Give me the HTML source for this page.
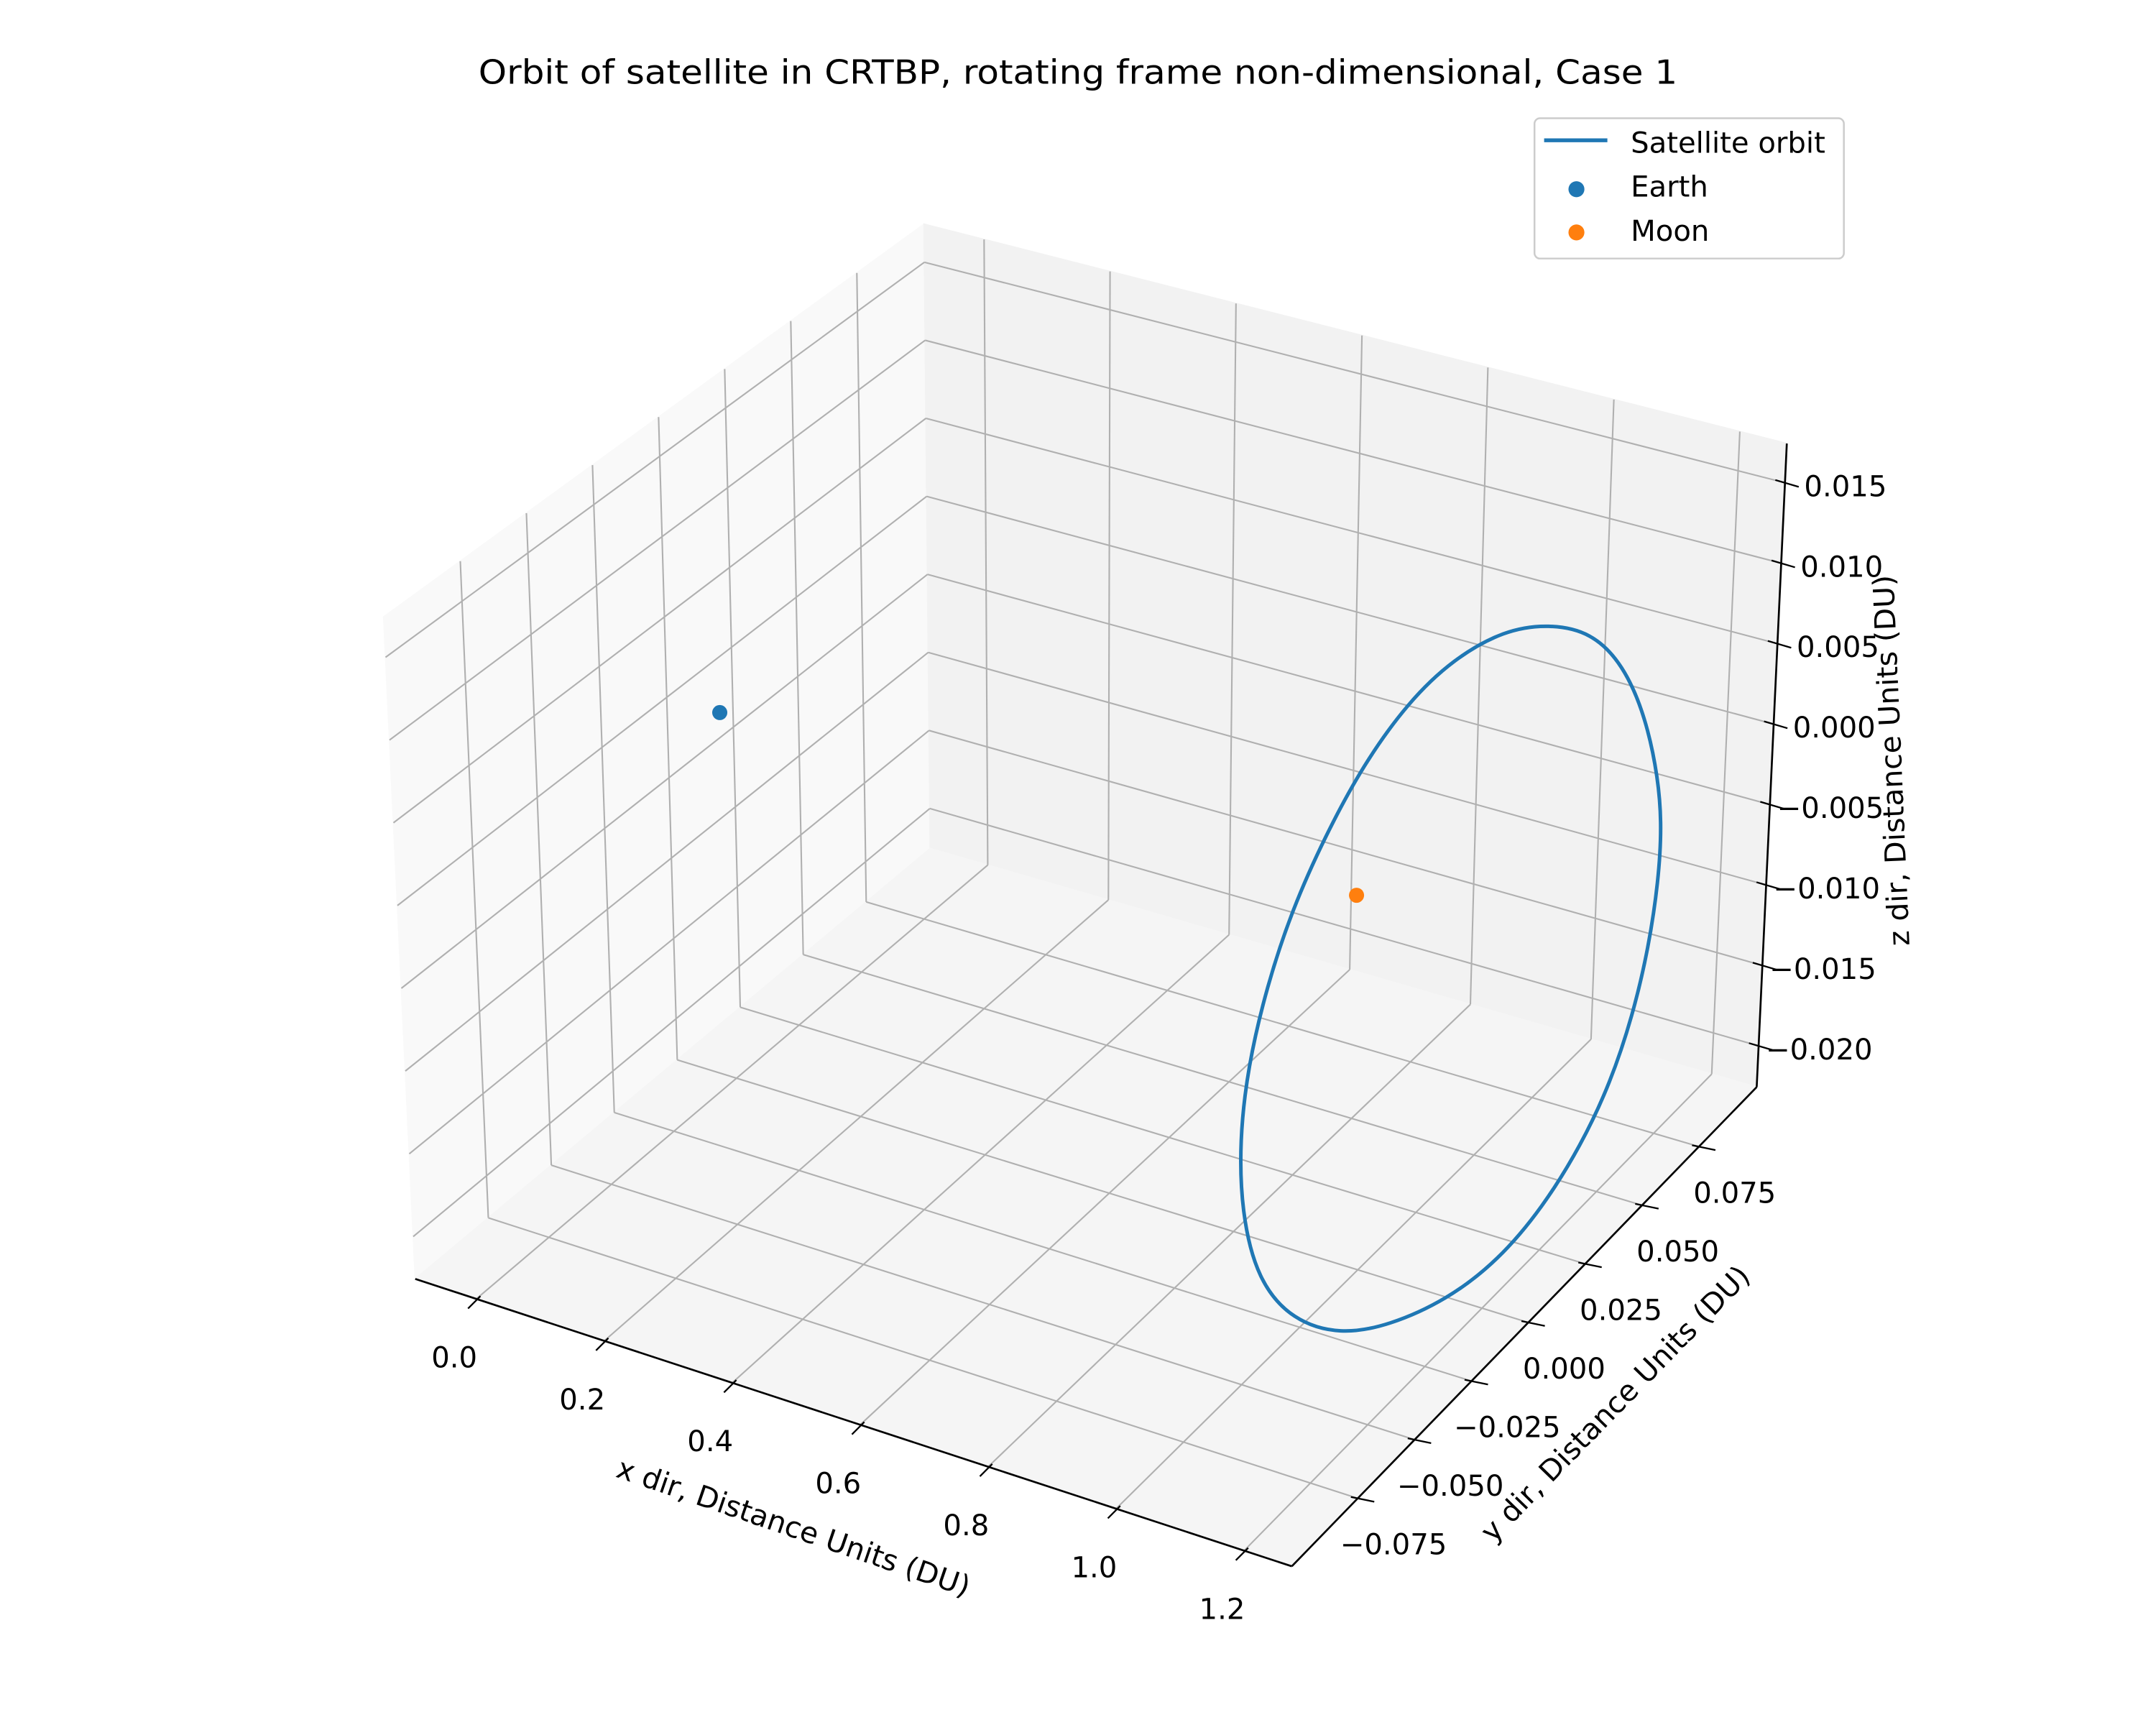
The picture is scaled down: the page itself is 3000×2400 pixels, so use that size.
<!DOCTYPE html>
<html><head><meta charset="utf-8"><style>
html,body{margin:0;padding:0;background:#fff;}
svg{display:block;}
text{font-family:"DejaVu Sans","Liberation Sans",sans-serif;fill:#000;}
</style></head><body>
<svg id="chart" xmlns="http://www.w3.org/2000/svg" width="3000" height="2400" viewBox="0 0 1568 1254.4" preserveAspectRatio="none">
<rect x="0" y="0" width="1568" height="1254.4" fill="#ffffff"/>
<g id="panes"></g>
<g id="grid"></g>
<g id="axes"></g>
<g id="marks"></g>
<text x="784" y="61" text-anchor="middle" font-size="24" textLength="872" lengthAdjust="spacingAndGlyphs">Orbit of satellite in CRTBP, rotating frame non-dimensional, Case 1</text>
<g>
<rect x="1116" y="86" width="225" height="102" rx="4" fill="#fff" fill-opacity="0.8" stroke="#cccccc" stroke-width="1.3"/>
<line x1="1123" y1="102" x2="1169" y2="102" stroke="#1f77b4" stroke-width="2.8"/>
<text x="1186" y="111" font-size="21">Satellite orbit</text>
<circle cx="1146.5" cy="137.6" r="5.8" fill="#1f77b4"/>
<text x="1186" y="143" font-size="21">Earth</text>
<circle cx="1146.5" cy="169" r="5.8" fill="#ff7f0e"/>
<text x="1186" y="175" font-size="21">Moon</text>
</g>
</svg>
<script>
// ---- data ----
const xTicks = [0.0, 0.2, 0.4, 0.6, 0.8, 1.0, 1.2];
const xTickLabels = ["0.0","0.2","0.4","0.6","0.8","1.0","1.2"];
const yTicks = [-0.075, -0.05, -0.025, 0.0, 0.025, 0.05, 0.075];
const yTickLabels = ["\u22120.075","\u22120.050","\u22120.025","0.000","0.025","0.050","0.075"];
const zTicks = [-0.020, -0.015, -0.010, -0.005, 0.000, 0.005, 0.010, 0.015];
const zTickLabels = ["\u22120.020","\u22120.015","\u22120.010","\u22120.005","0.000","0.005","0.010","0.015"];
const earth = [-0.0121, 0.0, 0.0];
const moon = [0.9879, 0.0, 0.0];
const orbitX = [1.11,1.11,1.11,1.11,1.11,1.11,1.11,1.11,1.11,1.11,1.11,1.11,1.11,1.11,1.11,1.11,1.11,1.11,1.11,1.11,1.11,1.11,1.11,1.11,1.11,1.11,1.11,1.11];
const orbitY = [0.0460,0.0642,0.0785,0.0892,0.0959,0.0982,0.0977,0.0945,0.0885,0.0796,0.0675,0.0511,0.0317,0.0092,-0.0161,-0.0374,-0.0584,-0.0740,-0.0811,-0.0821,-0.0789,-0.0711,-0.0607,-0.0474,-0.0316,-0.0130,0.0056,0.0270];
const orbitZ = [0.0118,0.0089,0.0050,0.0003,-0.0045,-0.0078,-0.0111,-0.0148,-0.0182,-0.0211,-0.0232,-0.0247,-0.0252,-0.0244,-0.0224,-0.0200,-0.0163,-0.0118,-0.0068,-0.0025,0.0014,0.0052,0.0084,0.0110,0.0133,0.0147,0.0149,0.0139];

// ---- axis limits & projection ----
const xLim = [-0.0954, 1.2746];
const yLim = [-0.104, 0.1004];
const zLim = [-0.02256, 0.01744];
const C = {
  c000:[302,930], c100:[939.5,1139], c110:[1277.6,790.5], c010:[676.5,617],
  c001:[279,448.6], c101:[945,640], c111:[1299.5,322.5], c011:[672,163]
};
function lerp(a,b,t){return [a[0]+(b[0]-a[0])*t, a[1]+(b[1]-a[1])*t];}
function projUVW(u,v,w){
  const f0 = lerp(lerp(C.c000,C.c010,v), lerp(C.c100,C.c110,v), u);
  const f1 = lerp(lerp(C.c001,C.c011,v), lerp(C.c101,C.c111,v), u);
  return lerp(f0,f1,w);
}
function ux(x){return (x-xLim[0])/(xLim[1]-xLim[0]);}
function vy(y){return (y-yLim[0])/(yLim[1]-yLim[0]);}
function wz(z){return (z-zLim[0])/(zLim[1]-zLim[0]);}
function proj(x,y,z){return projUVW(ux(x),vy(y),wz(z));}

const NS = "http://www.w3.org/2000/svg";
function mk(tag, parent, attrs){
  const el = document.createElementNS(NS, tag);
  for (const k in attrs) el.setAttribute(k, attrs[k]);
  parent.appendChild(el);
  return el;
}
function pts(arr){return arr.map(p=>p[0].toFixed(2)+","+p[1].toFixed(2)).join(" ");}

// panes
const panes = document.getElementById('panes');
let p;
p = mk('polygon', panes, {points: pts([C.c000,C.c010,C.c011,C.c001]), fill:'#f9f9f9', stroke:'#f9f9f9', 'stroke-width':1});


p = mk('polygon', panes, {points: pts([C.c010,C.c110,C.c111,C.c011]), fill:'#f2f2f2', stroke:'#f2f2f2', 'stroke-width':1});


p = mk('polygon', panes, {points: pts([C.c000,C.c100,C.c110,C.c010]), fill:'#f5f5f5', stroke:'#f5f5f5', 'stroke-width':1});



// grid
const grid = document.getElementById('grid');
function gline(a,b,name){
  const l = mk('line', grid, {x1:a[0],y1:a[1],x2:b[0],y2:b[1],stroke:'#b0b0b0','stroke-width':1.1});
  
  
}
xTicks.forEach(x=>{
  gline(projUVW(ux(x),0,0), projUVW(ux(x),1,0), 'grid-x-floor');
  gline(projUVW(ux(x),1,0), projUVW(ux(x),1,1), 'grid-x-back');
});
yTicks.forEach(y=>{
  gline(projUVW(0,vy(y),0), projUVW(1,vy(y),0), 'grid-y-floor');
  gline(projUVW(0,vy(y),0), projUVW(0,vy(y),1), 'grid-y-left');
});
zTicks.forEach(z=>{
  gline(projUVW(0,0,wz(z)), projUVW(0,1,wz(z)), 'grid-z-left');
  gline(projUVW(0,1,wz(z)), projUVW(1,1,wz(z)), 'grid-z-back');
});

// axes
const axes = document.getElementById('axes');
function aline(a,b,name,w){
  const l = mk('line', axes, {x1:a[0],y1:a[1],x2:b[0],y2:b[1],stroke:'#000','stroke-width':w||1.4});
  
  
}
function tlabel(x,y,txt,name,anchor){
  const t = mk('text', axes, {x:x, y:y, 'font-size':21, 'text-anchor':anchor||'middle', 'dominant-baseline':'central'});
  t.textContent = txt;
  
  
}
aline(C.c000, C.c100, 'x-axis-line');
aline(C.c100, C.c110, 'y-axis-line');
aline(C.c110, C.c111, 'z-axis-line');
xTicks.forEach((x,i)=>{
  const P = projUVW(ux(x),0,0);
  aline([P[0]-6,P[1]+7],[P[0]+3,P[1]-2],'x-tick',1.2);
  tlabel(P[0]-16, P[1]+43, xTickLabels[i], 'x-tick-label');
});
yTicks.forEach((y,i)=>{
  const P = projUVW(1,vy(y),0);
  aline([P[0]-5,P[1]-1],[P[0]+12,P[1]+2.5],'y-tick',1.2);
  tlabel(P[0]+26, P[1]+34, yTickLabels[i], 'y-tick-label');
});
zTicks.forEach((z,i)=>{
  const P = projUVW(1,1,wz(z));
  aline([P[0]-7,P[1]-2],[P[0]+10,P[1]+3],'z-tick',1.2);
  tlabel(P[0]+44, P[1]+3, zTickLabels[i], 'z-tick-label');
});
let t;
t = mk('text', axes, {x:577, y:1111, 'font-size':21, 'text-anchor':'middle', 'dominant-baseline':'central', transform:'rotate(18.9 577 1111)', textLength:270, lengthAdjust:'spacingAndGlyphs'});
t.textContent = 'x dir, Distance Units (DU)';


t = mk('text', axes, {x:1175, y:1021, 'font-size':21, 'text-anchor':'middle', 'dominant-baseline':'central', transform:'rotate(-45.8 1175 1021)', textLength:270, lengthAdjust:'spacingAndGlyphs'});
t.textContent = 'y dir, Distance Units (DU)';


t = mk('text', axes, {x:1376, y:553, 'font-size':21, 'text-anchor':'middle', 'dominant-baseline':'central', transform:'rotate(-92.5 1376 553)', textLength:270, lengthAdjust:'spacingAndGlyphs'});
t.textContent = 'z dir, Distance Units (DU)';



// marks
const marks = document.getElementById('marks');
const E = proj(earth[0],earth[1],earth[2]);
const ec = mk('circle', marks, {cx:E[0], cy:E[1], r:5.5, fill:'#1f77b4'});



// closed uniform cubic B-spline through projected orbit samples (smooths reading noise)
const P = orbitX.map((x,i)=>proj(x, orbitY[i], orbitZ[i]));
const n = P.length;
function comb(a,b,c,wa,wb,wc){return [(a[0]*wa+b[0]*wb+c[0]*wc),(a[1]*wa+b[1]*wb+c[1]*wc)];}
let d = '';
for (let i=0;i<n;i++){
  const p0=P[(i-1+n)%n], p1=P[i], p2=P[(i+1)%n], p3=P[(i+2)%n];
  const b0=comb(p0,p1,p2,1/6,4/6,1/6);
  const b1=comb(p1,p2,p2,2/3,1/3,0);
  const b2=comb(p1,p2,p2,1/3,2/3,0);
  const b3=comb(p1,p2,p3,1/6,4/6,1/6);
  if (i===0) d = 'M' + b0[0].toFixed(2)+','+b0[1].toFixed(2);
  d += ' C' + b1[0].toFixed(2)+','+b1[1].toFixed(2)+' '+b2[0].toFixed(2)+','+b2[1].toFixed(2)+' '+b3[0].toFixed(2)+','+b3[1].toFixed(2);
}
const orbit = mk('path', marks, {d:d+' Z', fill:'none', stroke:'#1f77b4', 'stroke-width':2.6, 'stroke-linejoin':'round'});



const M = proj(moon[0],moon[1],moon[2]);
const mc = mk('circle', marks, {cx:M[0], cy:M[1], r:5.5, fill:'#ff7f0e'});


</script>
</body></html>
